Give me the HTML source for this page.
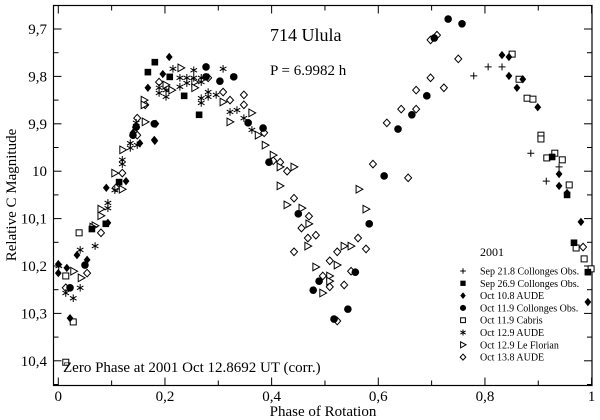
<!DOCTYPE html>
<html><head><meta charset="utf-8"><style>
body{margin:0;background:#fff;}
svg{display:block;font-family:"Liberation Serif",serif;}
</style></head><body>
<svg id="chart" width="600" height="420" viewBox="0 0 600 420" xmlns="http://www.w3.org/2000/svg">
<rect x="53.5" y="5.5" width="538.5" height="380" fill="none" stroke="#000" stroke-width="1.2"/>
<g id="ticks"></g>
<g id="marks"></g>
<text x="270" y="41" font-size="18">714 Ulula</text>
<text x="270" y="75" font-size="15">P = 6.9982 h</text>
<text x="63" y="372" font-size="15">Zero Phase at 2001 Oct 12.8692 UT (corr.)</text>
<text transform="translate(16,195) rotate(-90)" text-anchor="middle" font-size="15">Relative C Magnitude</text>
<text x="323" y="416" text-anchor="middle" font-size="15">Phase of Rotation</text>
<text x="480" y="256" font-size="12">2001</text>
<g id="legend"></g>
</svg>
<script>
const xTicks=[0,0.2,0.4,0.6,0.8,1];
const xTickLabels=["0","0,2","0,4","0,6","0,8","1"];
const yTicks=[9.7,9.8,9.9,10,10.1,10.2,10.3,10.4];
const yTickLabels=["9,7","9,8","9,9","10","10,1","10,2","10,3","10,4"];
const seriesNames=["Sep 21.8 Collonges Obs.","Sep 26.9 Collonges Obs.","Oct 10.8 AUDE","Oct 11.9 Collonges Obs.","Oct 11.9 Cabris","Oct 12.9 AUDE","Oct 12.9 Le Florian","Oct 13.8 AUDE"];
const plusPhase=[0.779,0.806,0.832,0.886,0.915,0.939];
const plusMag=[9.799,9.780,9.780,9.962,10.021,9.991];
const sqPhase=[0.168,0.181,0.209,0.236,0.264,0.114,0.063,0.089,0.926,0.954,0.967,0.993];
const sqMag=[9.791,9.770,9.801,9.841,9.881,10.023,10.122,10.111,9.970,10.050,10.151,10.213];
const dmPhase=[0.208,0.196,0.168,0.180,0.153,0.090,0.127,0.140,0.832,0.845,0.845,0.860,0.871,0.899,0.939,0.939,0.954,0.980,0.993,0.000,0.000,0.016,0.022,0.035,0.054,0.093,0.181,0.183];
const dmMag=[9.759,9.795,9.824,9.934,9.941,10.035,10.021,9.919,9.755,9.759,9.799,9.824,9.806,9.865,10.006,10.031,10.046,10.107,10.276,10.196,10.215,10.204,10.310,10.177,10.187,10.109,9.936,9.900];
const ciPhase=[0.180,0.140,0.146,0.277,0.277,0.303,0.329,0.356,0.384,0.395,0.731,0.757,0.705,0.691,0.663,0.637,0.611,0.583,0.557,0.489,0.478,0.543,0.517,0.450,0.022,0.050];
const ciMag=[9.900,9.924,9.907,9.780,9.801,9.810,9.801,9.898,9.909,9.981,9.679,9.689,9.719,9.841,9.881,9.911,10.010,10.111,10.213,10.232,10.251,10.291,10.312,10.090,10.246,10.198];
const osPhase=[0.851,0.864,0.879,0.890,0.905,0.905,0.916,0.931,0.945,0.958,0.971,0.986,0.999,0.039,0.014,0.028,0.014];
const osMag=[9.753,9.806,9.846,9.848,9.924,9.932,9.972,9.962,9.976,10.029,10.162,10.185,10.206,10.130,10.221,10.318,10.403];
const stPhase=[0.215,0.254,0.309,0.228,0.228,0.241,0.241,0.254,0.268,0.268,0.189,0.189,0.202,0.202,0.268,0.268,0.281,0.281,0.296,0.322,0.335,0.348,0.363,0.146,0.135,0.135,0.148,0.120,0.120,0.093,0.093,0.106,0.069,0.041,0.028,0.041,0.014,0.001];
const stMag=[9.784,9.787,9.784,9.803,9.822,9.803,9.814,9.803,9.803,9.812,9.824,9.835,9.829,9.843,9.846,9.856,9.833,9.843,9.839,9.875,9.871,9.888,9.913,9.898,9.941,9.951,9.945,9.976,9.985,10.067,10.078,10.040,10.158,10.166,10.268,10.246,10.257,10.200];
const trPhase=[0.230,0.161,0.161,0.202,0.213,0.256,0.256,0.309,0.322,0.363,0.375,0.388,0.121,0.163,0.403,0.416,0.442,0.416,0.429,0.457,0.470,0.468,0.483,0.523,0.536,0.549,0.509,0.509,0.496,0.564,0.577,0.029,0.043,0.080,0.080,0.069,0.106,0.120,0.065];
const trMag=[9.782,9.850,9.860,9.818,9.829,9.812,9.824,9.854,9.896,9.877,9.924,9.945,9.955,9.896,9.966,9.991,9.991,10.031,10.071,10.078,10.111,10.158,10.202,10.198,10.158,10.158,10.221,10.232,10.257,10.038,10.080,10.211,10.225,10.080,10.094,10.115,10.004,10.038,10.118];
const odPhase=[0.698,0.710,0.750,0.698,0.671,0.723,0.643,0.671,0.616,0.590,0.656,0.416,0.429,0.442,0.470,0.456,0.468,0.483,0.442,0.509,0.523,0.562,0.577,0.549,0.509,0.496,0.536,0.523,0.348,0.348,0.309,0.322,0.281,0.204,0.189,0.148,0.163,0.148,0.386,0.403,0.080,0.054,0.014,0.108,0.120,0.146,0.984];
const odMag=[9.723,9.713,9.763,9.803,9.829,9.824,9.869,9.869,9.898,9.985,10.014,9.981,10.000,10.057,10.095,10.120,10.141,10.135,10.170,10.189,10.170,10.141,10.164,10.211,10.244,10.221,10.240,10.316,9.839,9.860,9.833,9.850,9.803,9.824,9.812,9.888,9.860,9.924,9.919,9.978,10.130,10.215,10.246,10.035,10.004,9.907,10.160];

const NS="http://www.w3.org/2000/svg";
function X(p){return 58.3+p*533.3;}
function Y(m){return 29+(m-9.7)*474;}
function el(t,a){const e=document.createElementNS(NS,t);for(const k in a)e.setAttribute(k,a[k]);return e;}
const tg=document.getElementById('ticks');
for(let i=0;i<=10;i++){const p=i/10,x=X(p),L=(i%2==0)?8:5;
  const a=el('line',{x1:x,y1:385.5,x2:x,y2:385.5-L,stroke:'#000'});
  
  tg.appendChild(a);
  const b=el('line',{x1:x,y1:5.5,x2:x,y2:5.5+L,stroke:'#000'});
  
  tg.appendChild(b);}
xTicks.forEach((v,i)=>{const t=el('text',{x:X(v),y:401,'text-anchor':'middle','font-size':15});t.textContent=xTickLabels[i];
  
  tg.appendChild(t);});
for(let i=-1;i<=15;i++){const m=9.7+i*0.05,y=Y(m);if(y<6||y>385)continue;const L=(i%2==0)?8:5;
  const a=el('line',{x1:53.5,y1:y,x2:53.5+L,y2:y,stroke:'#000'});
  
  tg.appendChild(a);
  const b=el('line',{x1:592,y1:y,x2:592-L,y2:y,stroke:'#000'});
  
  tg.appendChild(b);}
yTicks.forEach((v,i)=>{const t=el('text',{x:47,y:Y(v)+5,'text-anchor':'end','font-size':15});t.textContent=yTickLabels[i];
  
  tg.appendChild(t);});

function marker(type,x,y,s){
  s=s||1;
  if(type==0)return el('path',{d:`M${x-3.5*s},${y}H${x+3.5*s}M${x},${y-3.5*s}V${y+3.5*s}`,stroke:'#000','stroke-width':1,fill:'none'});
  if(type==1)return el('rect',{x:x-3.3*s,y:y-3.3*s,width:6.6*s,height:6.6*s,fill:'#000'});
  if(type==2)return el('path',{d:`M${x},${y-4.2*s}L${x+3.4*s},${y}L${x},${y+4.2*s}L${x-3.4*s},${y}Z`,fill:'#000'});
  if(type==3)return el('circle',{cx:x,cy:y,r:3.8*s,fill:'#000'});
  if(type==4)return el('rect',{x:x-3*s,y:y-3*s,width:6*s,height:6*s,fill:'#fff',stroke:'#000','stroke-width':1});
  if(type==5){let d='';for(let k=0;k<3;k++){const a=k*Math.PI/3+Math.PI/2;d+=`M${x-3.8*s*Math.cos(a)},${y-3.8*s*Math.sin(a)}L${x+3.8*s*Math.cos(a)},${y+3.8*s*Math.sin(a)}`;}
    return el('path',{d:d,stroke:'#000','stroke-width':1.0,fill:'none'});}
  if(type==6)return el('path',{d:`M${x-3*s},${y-3.8*s}L${x+3.8*s},${y}L${x-3*s},${y+3.8*s}Z`,fill:'#fff',stroke:'#000','stroke-width':1});
  return el('path',{d:`M${x},${y-3.8*s}L${x+3.5*s},${y}L${x},${y+3.8*s}L${x-3.5*s},${y}Z`,fill:'#fff',stroke:'#000','stroke-width':1});
}
const series=[[plusPhase,plusMag],[sqPhase,sqMag],[dmPhase,dmMag],[ciPhase,ciMag],[osPhase,osMag],[stPhase,stMag],[trPhase,trMag],[odPhase,odMag]];
const mg=document.getElementById('marks');
const order=[7,6,4,0,5,1,2,3];
order.forEach(si=>{const [ps,ms]=series[si];
  ps.forEach((p,j)=>{const m=marker(si,X(p),Y(ms[j]));
    
    mg.appendChild(m);});});
const lg=document.getElementById('legend');
seriesNames.forEach((n,i)=>{const y=271+i*12.3;
  const m=marker(i,463,y,0.8);
  
  lg.appendChild(m);
  const t=el('text',{x:480,y:y+3.5,'font-size':10});t.textContent=n;
  
  lg.appendChild(t);});
</script>
</body></html>
